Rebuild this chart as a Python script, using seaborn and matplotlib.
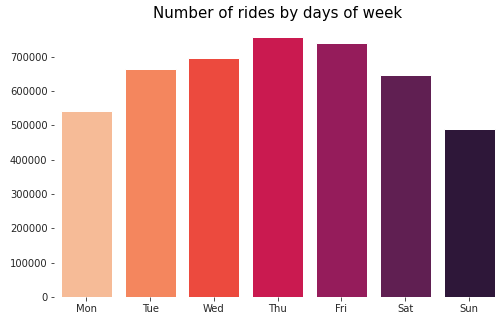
import matplotlib
matplotlib.use("Agg")
import matplotlib.pyplot as plt
import seaborn as sns
import pandas as pd

days = ["Mon", "Tue", "Wed", "Thu", "Fri", "Sat", "Sun"]
rides = [543000, 665000, 697000, 756000, 741000, 647000, 490000]
title = "Number of rides by days of week"

sns.set_style("ticks")
df = pd.DataFrame({"day": days, "rides": rides})

fig = plt.figure(figsize=(7, 322 / 72), dpi=72)
ax = fig.add_axes([0.108, 0.0776, 0.886, 0.8466])
sns.barplot(data=df, x="day", y="rides", hue="day", palette="rocket_r",
            legend=False, ax=ax, saturation=1)
ax.set_xlabel("")
ax.set_ylabel("")
ax.set_title(title, fontsize=15, color="black")
sns.despine(left=True, bottom=True)
ax.ticklabel_format(axis="y", style="plain")
fig.savefig("out.png", dpi=72)
